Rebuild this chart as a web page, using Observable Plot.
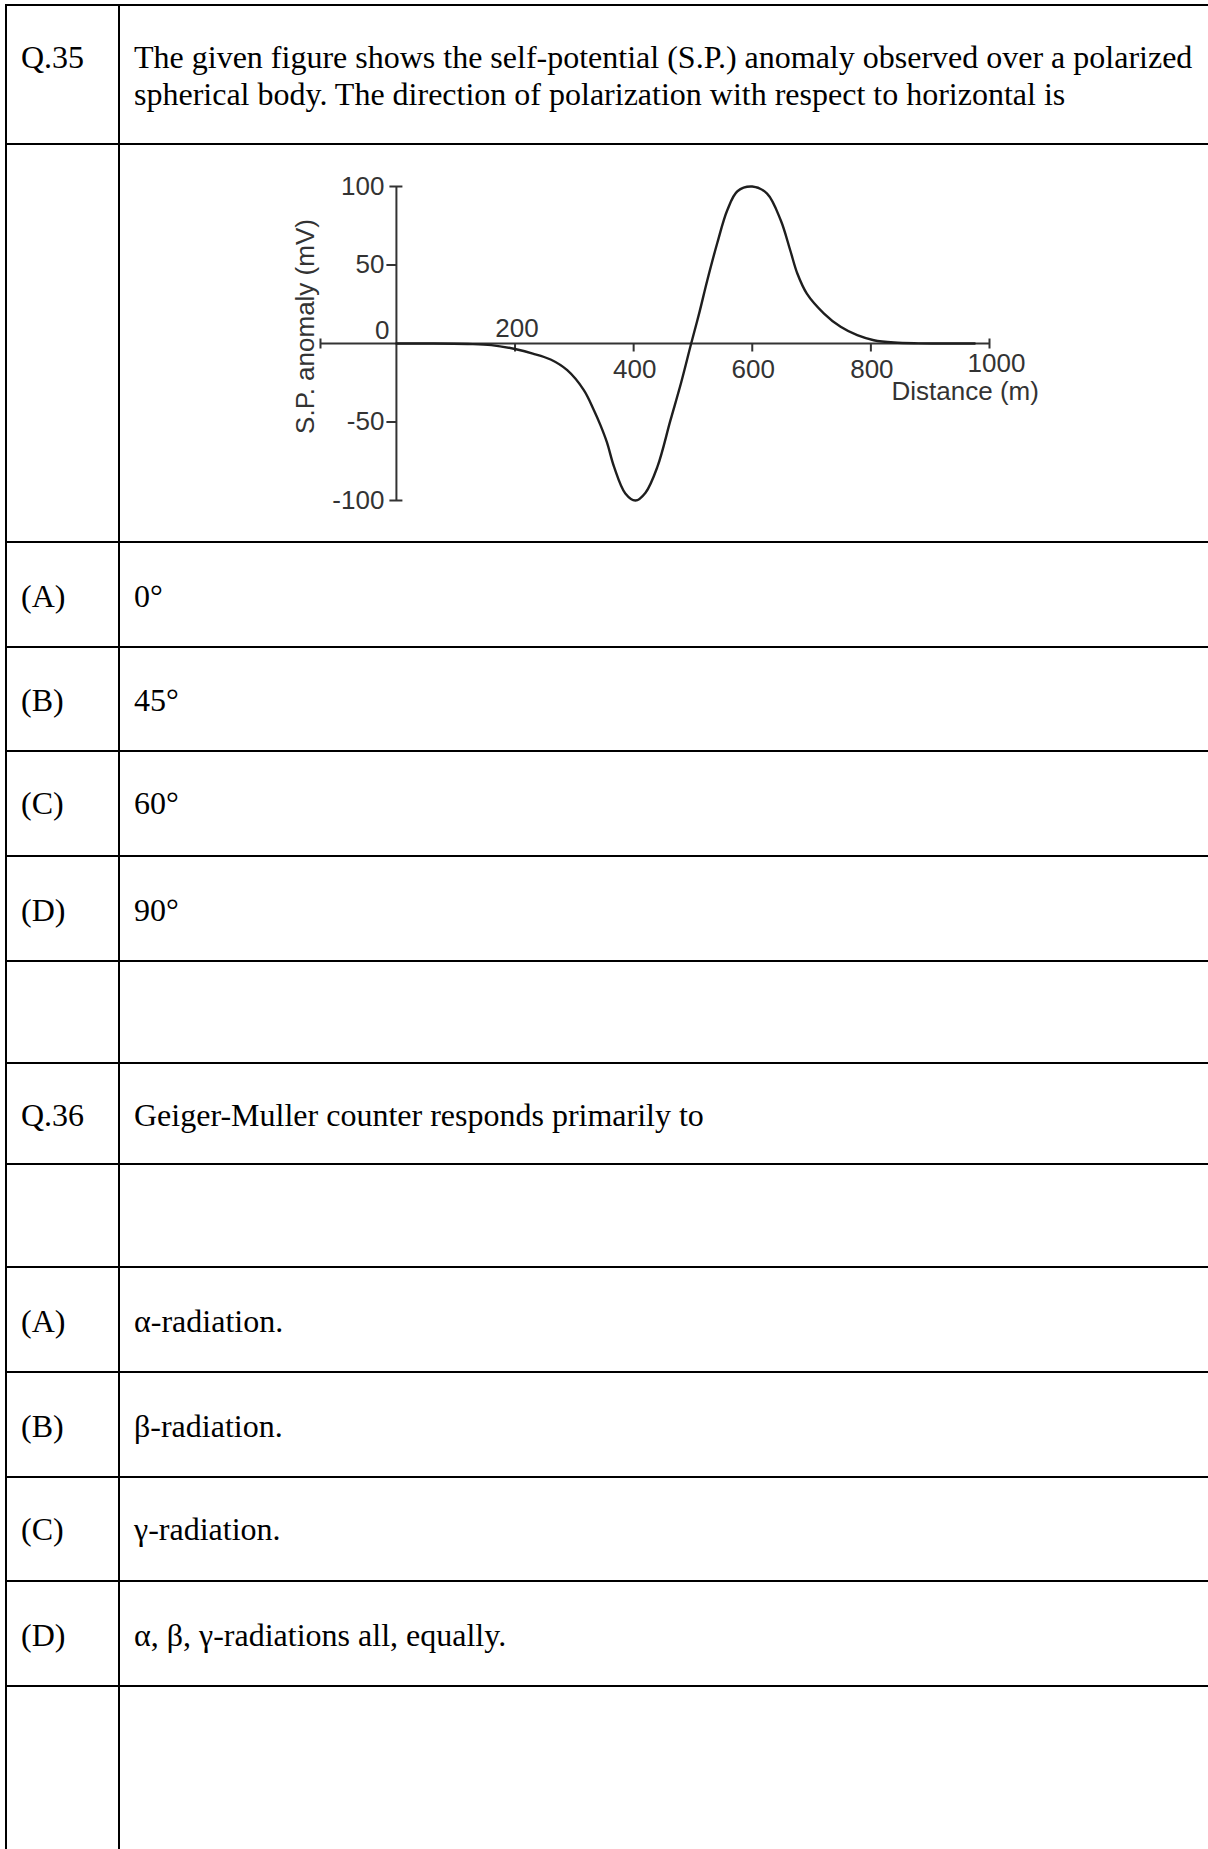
<!DOCTYPE html>
<html>
<head>
<meta charset="utf-8">
<script src="https://cdn.jsdelivr.net/npm/d3@7"></script>
<script src="https://cdn.jsdelivr.net/npm/@observablehq/plot@0.6"></script>
<style>
  html, body { margin: 0; padding: 0; background: #fff; }
  #page { position: relative; width: 1208px; height: 1849px; overflow: hidden; background: #fff;
          font-family: "Liberation Serif", "Times New Roman", serif; color: #000; }
  .hl { position: absolute; left: 5px; right: 0; height: 2px; background: #000; }
  .vl { position: absolute; top: 4px; bottom: 0; width: 2px; background: #000; }
  .t { position: absolute; font-size: 32px; line-height: 37px; white-space: nowrap; }
  #chart { position: absolute; left: 180px; top: 160px; }
</style>
</head>
<body>
<div id="page"></div>
<script>
// ---- chart data ----
const distance = [0, 60, 120, 160, 200, 230, 260, 288, 316, 333, 344, 355, 367, 386, 403, 420, 440, 462, 480, 497, 511, 524, 541, 558, 575, 600, 625, 648, 664, 676, 692, 721, 749, 777, 805, 839, 880, 975];
const anomaly  = [0, 0, -0.3, -1, -3.5, -6.4, -10.2, -17, -29.7, -42.5, -52, -63, -78.6, -95.5, -100, -95, -78.6, -49, -25, 0, 20, 40, 64, 85, 97, 100, 95.5, 78.5, 59.4, 44.6, 31.8, 19.1, 10.6, 5.3, 2.1, 0.6, 0.1, 0];
const xTicksBelow = [400, 600, 800];
const xTickAbove = [200];
const xTickEnd = [1000];
const yTicks = [50, -50];
const yCaps = [100, -100];
const yLabels = [100, 50, -50, -100];
const xExtent = [-128, 1000];
const yExtent = [-100, 100];
const xTitle = "Distance (m)";
const yTitle = "S.P. anomaly (mV)";

// ---- table text ----
const rowLines = [4, 143, 541, 646, 750, 855, 960, 1062, 1163, 1266, 1371, 1476, 1580, 1685];
const labels = ["Q.35", "(A)", "(B)", "(C)", "(D)", "Q.36", "(A)", "(B)", "(C)", "(D)"];
const contents = [
  "The given figure shows the self-potential (S.P.) anomaly observed over a polarized<br>spherical body. The direction of polarization with respect to horizontal is",
  "0°", "45°", "60°", "90°",
  "Geiger-Muller counter responds primarily to",
  "α-radiation.", "β-radiation.", "γ-radiation.", "α, β, γ-radiations all, equally."
];
const baselines = [68, 607, 711, 814, 921, 1126, 1332, 1437, 1540, 1646];

const page = document.getElementById("page");
for (const y of rowLines) {
  const d = document.createElement("div"); d.className = "hl"; d.style.top = y + "px"; page.appendChild(d);
}
for (const x of [5, 118]) {
  const d = document.createElement("div"); d.className = "vl"; d.style.left = x + "px"; page.appendChild(d);
}
labels.forEach((lab, i) => {
  const top = baselines[i] - 29;
  const a = document.createElement("div"); a.className = "t"; a.style.left = "21px"; a.style.top = top + "px";
  a.textContent = lab; page.appendChild(a);
  const b = document.createElement("div"); b.className = "t"; b.style.left = "134px"; b.style.top = top + "px";
  b.innerHTML = contents[i]; page.appendChild(b);
});

// ---- chart ----
const pts = distance.map((d, i) => ({x: d, y: anomaly[i]}));
const axisColor = "#333";
const sym = (f) => ({draw: f});
const tickDown = sym((c) => { c.moveTo(0, 0); c.lineTo(0, 8); });
const capV = sym((c) => { c.moveTo(0, -5); c.lineTo(0, 5); });
const tickLeft = sym((c) => { c.moveTo(-10, 0); c.lineTo(0, 0); });
const capH = sym((c) => { c.moveTo(-7, 0); c.lineTo(6, 0); });
const font = {fontFamily: "Liberation Sans, Arial, sans-serif", fontSize: 26, fill: "#333"};

const chart = Plot.plot({
  width: 900,
  height: 360,
  marginLeft: 140,
  marginRight: 91,
  marginTop: 26,
  marginBottom: 20,
  style: {background: "transparent", overflow: "visible"},
  x: {domain: xExtent, axis: null},
  y: {domain: yExtent, axis: null},
  marks: [
    Plot.ruleY([0], {x1: xExtent[0], x2: xExtent[1], stroke: axisColor, strokeWidth: 2}),
    Plot.ruleX([0], {y1: yExtent[0], y2: yExtent[1], stroke: axisColor, strokeWidth: 2}),
    Plot.dot(xTicksBelow.concat(xTickAbove), {x: d => d, y: () => 0, symbol: tickDown, fill: "none", stroke: axisColor, strokeWidth: 2}),
    Plot.dot([xExtent[0]].concat(xTickEnd), {x: d => d, y: () => 0, symbol: capV, fill: "none", stroke: axisColor, strokeWidth: 2}),
    Plot.dot(yTicks, {x: () => 0, y: d => d, symbol: tickLeft, fill: "none", stroke: axisColor, strokeWidth: 2}),
    Plot.dot(yCaps, {x: () => 0, y: d => d, symbol: capH, fill: "none", stroke: axisColor, strokeWidth: 2}),
    Plot.line(pts, {x: "x", y: "y", curve: "catmull-rom", stroke: "#1e1e1e", strokeWidth: 2.4}),
    // tick labels
    Plot.text(yLabels, {x: () => 0, y: d => d, text: d => String(d), textAnchor: "end", dx: -12, ...font}),
    Plot.text([0], {x: () => 0, y: d => d, text: d => String(d), textAnchor: "end", dx: -7, dy: -13, ...font}),
    Plot.text(xTickAbove, {x: d => d, y: () => 0, text: d => String(d), dx: 2, dy: -15, ...font}),
    Plot.text(xTicksBelow, {x: d => d, y: () => 0, text: d => String(d), dx: 1, dy: 26, ...font}),
    Plot.text(xTickEnd, {x: d => d, y: () => 0, text: d => String(d), dx: 7, dy: 20, ...font}),
    Plot.text([xTitle], {x: () => xExtent[1], y: () => 0, text: d => d, textAnchor: "start", dx: -98, dy: 48, ...font}),
    Plot.text([yTitle], {x: () => xExtent[0], y: () => 0, text: d => d, rotate: -90, dx: -15, dy: -17, ...font})
  ]
});
chart.id = "chart";
page.appendChild(chart);
</script>
</body>
</html>
